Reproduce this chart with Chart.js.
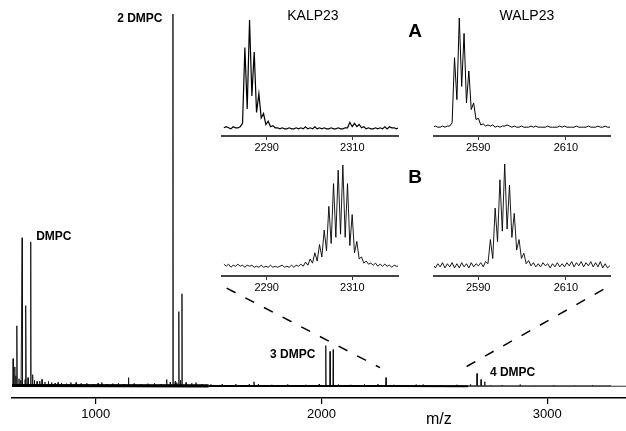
<!DOCTYPE html>
<html>
<head>
<meta charset="utf-8">
<script src="https://cdn.jsdelivr.net/npm/chart.js@4.4.1/dist/chart.umd.min.js"></script>
<style>
  body { margin: 0; background: #fff; }
  #wrap { position: relative; width: 626px; height: 431px; overflow: hidden; }
  #wrap canvas { position: absolute; }
</style>
</head>
<body>
<div id="wrap">
  <canvas id="main" width="626" height="431" style="left:0;top:0"></canvas>
  <canvas id="kalpA" width="220" height="160" style="left:200px;top:0"></canvas>
  <canvas id="walpA" width="214" height="160" style="left:412px;top:0"></canvas>
  <canvas id="kalpB" width="220" height="160" style="left:200px;top:140px"></canvas>
  <canvas id="walpB" width="214" height="160" style="left:412px;top:140px"></canvas>
</div>
<script>
// main spectrum: peak positions (m/z) and relative intensity (%)
const peakMz  = [634, 641, 651, 674, 687, 691, 712, 720, 762, 833, 913, 1027, 1145, 1314, 1342, 1359, 1368, 1382, 1444, 1701, 2019, 2038, 2052, 2286, 2419, 2689, 2707, 2723];
const peakInt = [7.6, 5.4, 16.4, 40.0, 2.0, 21.8, 38.9, 3.3, 2.0, 1.2, 1.2, 1.2, 2.5, 2.0, 100, 1.2, 20.2, 25.0, 1.2, 1.4, 11.1, 9.5, 10.0, 2.5, 0.6, 3.6, 2.0, 1.4];

// small noise spikes along the baseline
const minorMz  = [646, 660, 668, 700, 728, 740, 752, 775, 790, 805, 820, 848, 870, 890, 935, 960, 990, 1010, 1050, 1075, 1100, 1125, 1170, 1200, 1230, 1260, 1290, 1330, 1352, 1375, 1400, 1425, 1470, 1510, 1560, 1620, 1680, 1720, 1780, 1850, 1930, 1990, 2075, 2130, 2190, 2250, 2320, 2380, 2450, 2530, 2600, 2660, 2750, 2800, 2880, 2950, 3030, 3120, 3200, 3280];
const minorInt = [3.0, 2.2, 1.8, 2.5, 1.8, 1.5, 1.6, 1.3, 1.5, 1.2, 1.0, 1.1, 0.9, 1.2, 0.9, 1.0, 0.8, 1.0, 0.8, 0.9, 1.0, 0.8, 0.9, 0.8, 0.9, 1.0, 0.8, 1.3, 1.5, 1.8, 1.2, 1.0, 0.8, 0.7, 0.7, 0.8, 0.7, 0.8, 0.6, 0.7, 0.6, 0.8, 0.7, 0.6, 0.7, 0.8, 0.6, 0.5, 0.6, 0.5, 0.6, 0.7, 0.5, 0.5, 0.6, 0.4, 0.5, 0.4, 0.5, 0.4];

const baseMz  = [629, 1500, 2300, 2650, 3349];
const baseInt = [0.4, 0.3, 0.3, 0.2, 0.2];

// dashed zoom guides
const guideLeftMz   = [1580, 2259];
const guideLeftInt  = [26.5, 5.2];
const guideRightMz  = [2643, 3285];
const guideRightInt = [5.5, 27.4];

const mainTicks = [1000, 2000, 3000];
const peakNames = ['DMPC', '2 DMPC', '3 DMPC', '4 DMPC'];

// insets: intensity every STEP m/z
const STEP = 0.545;
const kalpStart = 2280.0;
const walpStart = 2579.7;
const kalpTicks = [2290, 2310];
const walpTicks = [2590, 2610];

const kalpA = [2, 3, 2, 1, 3, 2, 2, 3, 6, 75, 19, 100, 31, 71, 16, 33, 11, 15, 5, 8,
  3, 4, 2, 2, 1, 2, 1, 1, 2, 1, 1, 2, 1, 2, 1, 3, 1, 2, 1, 3,
  1, 2, 1, 2, 1, 1, 2, 1, 1, 2, 1, 1, 2, 2, 7, 3, 6, 3, 5, 2,
  3, 1, 2, 1, 1, 2, 1, 2, 1, 3, 1, 3, 2, 2, 1, 2];
const walpA = [1, 2, 1, 1, 2, 1, 2, 2, 5, 64, 26, 100, 38, 86, 23, 52, 17, 23, 8, 9,
  3, 4, 2, 3, 2, 3, 1, 2, 1, 2, 2, 3, 2, 1, 2, 1, 1, 2, 1, 1,
  1, 2, 1, 2, 1, 1, 1, 1, 2, 1, 1, 1, 1, 2, 1, 2, 1, 1, 1, 1,
  2, 1, 1, 1, 1, 2, 1, 1, 1, 2, 1, 1, 2, 1, 1];
const kalpB = [4, 2, 4, 1, 3, 2, 4, 2, 3, 1, 3, 2, 3, 1, 2, 1, 3, 1, 2, 1,
  3, 1, 2, 1, 2, 3, 1, 2, 1, 3, 1, 3, 2, 4, 2, 6, 3, 9, 5, 15,
  7, 23, 11, 37, 17, 60, 24, 82, 30, 95, 33, 100, 30, 82, 22, 52, 15, 26, 9, 11,
  5, 7, 4, 5, 3, 5, 2, 4, 2, 4, 2, 3, 1, 3, 2, 2];
const walpB = [4, 1, 5, 2, 6, 1, 5, 2, 6, 1, 5, 1, 6, 2, 5, 1, 6, 2, 5, 3,
  6, 2, 7, 5, 28, 10, 58, 26, 85, 36, 100, 38, 80, 30, 53, 18, 28, 10, 15, 5,
  8, 3, 6, 2, 5, 2, 6, 3, 5, 1, 5, 2, 6, 2, 5, 2, 6, 3, 7, 2,
  6, 3, 7, 2, 6, 3, 7, 2, 6, 2, 7, 1, 5, 1, 3];

const FONT = '"Liberation Sans", Arial, Helvetica, sans-serif';

function spike(mz, h) {
  return [{x: mz - 1.2, y: 0.3}, {x: mz, y: h}, {x: mz + 1.2, y: 0.3}];
}

const allPeaks = peakMz.map((m, i) => [m, peakInt[i]])
  .concat(minorMz.map((m, i) => [m, minorInt[i]]))
  .sort((a, b) => a[0] - b[0]);
const spectrum = [];
allPeaks.forEach(p => spectrum.push(...spike(p[0], p[1])));

const toXY = (xs, ys) => xs.map((v, i) => ({x: v, y: ys[i]}));

const mainText = {
  id: 'mainText',
  afterDraw(chart) {
    const {ctx, chartArea, scales: {x, y}} = chart;
    const spots = [[736, 40.3], [1095, 98.7], [1772, 8.7], [2746, 3.8]];
    ctx.save();
    ctx.fillStyle = '#000';
    ctx.textBaseline = 'middle';
    ctx.textAlign = 'left';
    ctx.font = 'bold 12px ' + FONT;
    peakNames.forEach((name, i) => {
      ctx.fillText(name, x.getPixelForValue(spots[i][0]), y.getPixelForValue(spots[i][1]));
    });
    ctx.textAlign = 'center';
    ctx.font = 'bold 19px ' + FONT;
    ctx.fillText('A', 415, 32);
    ctx.fillText('B', 415, 178);
    ctx.font = '16px ' + FONT;
    ctx.fillText('m/z', x.getPixelForValue(2520), chartArea.bottom + 22);
    ctx.restore();
  }
};

new Chart(document.getElementById('main'), {
  type: 'line',
  data: {
    datasets: [
      {data: toXY(baseMz, baseInt), borderColor: '#000', borderWidth: 3,
       segment: {
         borderWidth: c => c.p0.parsed.x < 1500 ? 3.2 : (c.p0.parsed.x < 2650 ? 2 : 1.2),
         borderColor: c => c.p0.parsed.x < 2650 ? '#000' : '#333'
       }},
      {data: spectrum, borderColor: '#111', borderWidth: 0.9},
      {data: toXY(guideLeftMz, guideLeftInt), borderColor: '#000', borderWidth: 1.5, borderDash: [10, 11]},
      {data: toXY(guideRightMz, guideRightInt), borderColor: '#000', borderWidth: 1.5, borderDash: [10, 11]}
    ]
  },
  options: {
    responsive: false,
    animation: false,
    devicePixelRatio: 1,
    events: [],
    layout: {padding: {left: 12, right: 0, top: 14, bottom: 0}},
    elements: {point: {radius: 0}, line: {tension: 0}},
    datasets: {line: {clip: {left: 0, right: 0, top: 4, bottom: 0}}},
    plugins: {legend: {display: false}, tooltip: {enabled: false}},
    scales: {
      x: {
        type: 'linear', min: 629, max: 3349,
        afterBuildTicks: s => { s.ticks = mainTicks.map(v => ({value: v})); },
        afterFit: s => { s.height = 33; },
        border: {color: '#000', width: 1.5},
        grid: {drawOnChartArea: false, tickLength: 6, color: '#000', lineWidth: 1.2},
        ticks: {color: '#000', font: {family: FONT, size: 13}, padding: 3, maxRotation: 0, callback: v => String(v)}
      },
      y: {display: false, min: -2.95, max: 100}
    }
  },
  plugins: [mainText]
});

function inset(id, start, values, xMin, xMax, ticks, yMin, pad, title, titleMz, width) {
  const titlePlugin = {
    id: 'insetTitle',
    afterDraw(chart) {
      if (!title) return;
      const {ctx, scales: {x}} = chart;
      ctx.save();
      ctx.fillStyle = '#000';
      ctx.font = '14px ' + FONT;
      ctx.textAlign = 'center';
      ctx.textBaseline = 'middle';
      ctx.fillText(title, x.getPixelForValue(titleMz), 16);
      ctx.restore();
    }
  };
  new Chart(document.getElementById(id), {
    type: 'line',
    data: {datasets: [{data: values.map((v, i) => ({x: start + i * STEP, y: v})), borderColor: '#000', borderWidth: width}]},
    options: {
      responsive: false,
      animation: false,
      devicePixelRatio: 1,
      events: [],
      layout: {padding: pad},
      elements: {point: {radius: 0}, line: {tension: 0}},
      datasets: {line: {clip: {left: 0, right: 0, top: 4, bottom: 0}}},
      plugins: {legend: {display: false}, tooltip: {enabled: false}},
      scales: {
        x: {
          type: 'linear', min: xMin, max: xMax,
          afterBuildTicks: s => { s.ticks = ticks.map(v => ({value: v})); },
          afterFit: s => { s.height = 20; },
          border: {color: '#444', width: 2},
          grid: {drawOnChartArea: false, tickLength: 4, color: '#333', lineWidth: 1},
          ticks: {color: '#000', font: {family: FONT, size: 11}, padding: 1, maxRotation: 0, callback: v => String(v)}
        },
        y: {display: false, min: yMin, max: 100}
      }
    },
    plugins: [titlePlugin]
  });
}

inset('kalpA', kalpStart, kalpA, 2279.56, 2320.68, kalpTicks, -5.45, {left: 22, right: 22, top: 20, bottom: 4}, 'KALP23', 2300.8, 1.2);
inset('walpA', walpStart, walpA, 2579.93, 2620.05, walpTicks, -7.0, {left: 22, right: 16, top: 18, bottom: 4}, 'WALP23', 2601.1, 1);
inset('kalpB', kalpStart, kalpB, 2279.56, 2320.68, kalpTicks, -7.45, {left: 22, right: 22, top: 25, bottom: 4}, '', 0, 0.9);
inset('walpB', walpStart, walpB, 2579.93, 2620.05, walpTicks, -6.7, {left: 22, right: 16, top: 24, bottom: 4}, '', 0, 0.9);
</script>
</body>
</html>
